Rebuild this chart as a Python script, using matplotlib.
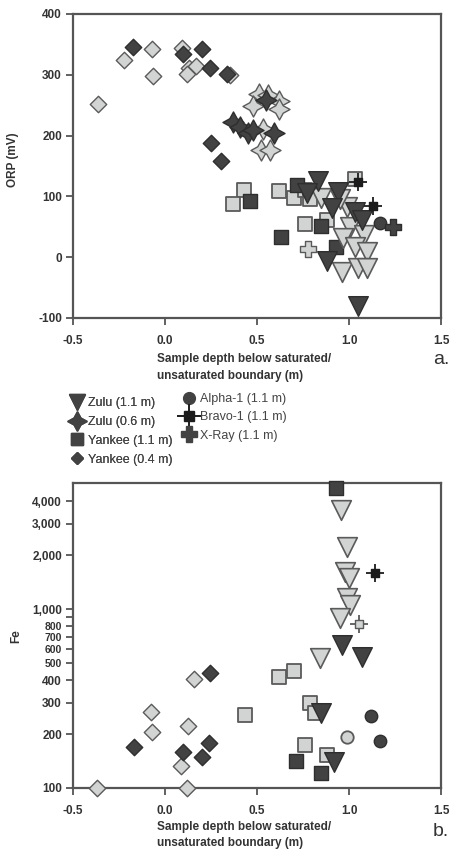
import matplotlib
matplotlib.use("Agg")
import matplotlib.pyplot as plt
from matplotlib.lines import Line2D
from matplotlib.legend_handler import HandlerTuple
from matplotlib.ticker import FixedLocator, NullLocator, NullFormatter

plt.rcParams['font.family'] = ['Liberation Sans', 'DejaVu Sans']

# ---------------- Panel a: ORP (mV) ----------------
orp_zulu11_dark_x = [0.83, 0.94, 0.91, 1.03, 1.07, 0.88, 1.05, 0.77]
orp_zulu11_dark_y = [125, 108, 81, 75, 62, -6, -80, 105]
orp_zulu11_light_x = [0.85, 0.99, 1.005, 1.08, 0.97, 1.03, 1.10, 0.96, 1.05, 1.10, 0.95]
orp_zulu11_light_y = [97, 83, 50, 37, 32, 17, 9, -25, -18, -18, 95]

orp_zulu06_dark_x = [0.37, 0.41, 0.45, 0.48, 0.59, 0.55]
orp_zulu06_dark_y = [222, 214, 205, 209, 205, 258]
orp_zulu06_light_x = [0.51, 0.56, 0.62, 0.48, 0.62, 0.53, 0.52, 0.57]
orp_zulu06_light_y = [268, 267, 257, 248, 243, 211, 176, 176]

orp_yankee11_dark_x = [0.46, 0.715, 0.63, 0.85, 0.93]
orp_yankee11_dark_y = [92, 119, 33, 51, 17]
orp_yankee11_light_x = [0.43, 0.37, 0.62, 0.70, 0.76, 0.79, 0.76, 0.88, 1.03]
orp_yankee11_light_y = [111, 87, 109, 97, 110, 96, 55, 61, 128]

orp_yankee04_dark_x = [-0.174, 0.098, 0.201, 0.245, 0.337, 0.25, 0.304]
orp_yankee04_dark_y = [346, 334, 342, 312, 301, 188, 158]
orp_yankee04_light_x = [-0.364, -0.223, -0.07, -0.065, 0.09, 0.13, 0.168, 0.12, 0.353]
orp_yankee04_light_y = [252, 324, 342, 298, 344, 312, 315, 301, 300]

orp_alpha_dark_x = [1.17]
orp_alpha_dark_y = [56]
orp_bravo_dark_x = [1.05, 1.13]
orp_bravo_dark_y = [124, 85]
orp_xray_light_x = [0.777]
orp_xray_light_y = [13]
orp_xray_dark_x = [1.24]
orp_xray_dark_y = [50]

# ---------------- Panel b: Fe ----------------
fe_zulu11_light_x = [0.955, 0.99, 0.978, 1.0, 0.99, 1.005, 0.95, 0.84]
fe_zulu11_light_y = [3570, 2220, 1610, 1500, 1150, 1050, 890, 530]
fe_zulu11_dark_x = [0.96, 1.07, 0.85, 0.92]
fe_zulu11_dark_y = [630, 540, 262, 140]

fe_yankee11_light_x = [0.62, 0.70, 0.79, 0.815, 0.435, 0.76, 0.88]
fe_yankee11_light_y = [417, 450, 300, 262, 256, 174, 153]
fe_yankee11_dark_x = [0.93, 0.71, 0.85]
fe_yankee11_dark_y = [4740, 142, 121]

fe_yankee04_light_x = [0.16, -0.076, -0.07, 0.126, 0.087, -0.37, 0.12]
fe_yankee04_light_y = [405, 266, 205, 222, 133, 100, 100]
fe_yankee04_dark_x = [0.245, -0.17, 0.10, 0.20, 0.24]
fe_yankee04_dark_y = [440, 170, 158, 149, 179]

fe_alpha_light_x = [0.99]
fe_alpha_light_y = [193]
fe_alpha_dark_x = [1.12, 1.17]
fe_alpha_dark_y = [253, 183]

fe_bravo_dark_x = [1.14]
fe_bravo_dark_y = [1590]
fe_bravo_light_x = [1.055]
fe_bravo_light_y = [830]

x_ticks = [-0.5, 0.0, 0.5, 1.0, 1.5]
orp_ticks = [400, 300, 200, 100, 0, -100]
fe_ticks = [100, 200, 300, 400, 500, 600, 700, 800, 900, 1000, 2000, 3000, 4000]
fe_ticklabels = ['100', '200', '300', '400', '500', '600', '700', '800', '',
                 '1,000', '2,000', '3,000', '4,000']

legend_labels = ['Zulu (1.1 m)', 'Zulu (0.6 m)', 'Yankee (1.1 m)', 'Yankee (0.4 m)',
                 'Alpha-1 (1.1 m)', 'Bravo-1 (1.1 m)', 'X-Ray (1.1 m)']
xlabel_lines = ['Sample depth below saturated/', 'unsaturated boundary (m)']

DARK = '#424242'
DARKEST = '#1c1c1c'
LIGHT = '#d2d4d4'
EDGE_L = '#5a5a5a'
EDGE_D = '#2e2e2e'
STAR = (4, 1, 0)

W, H = 453, 850
fig = plt.figure(figsize=(W / 100, H / 100), dpi=100)


def ax_rect(l, t, r, b):
    return [l / W, 1 - b / H, (r - l) / W, (b - t) / H]


axa = fig.add_axes(ax_rect(73, 14, 441, 318))
axb = fig.add_axes(ax_rect(73, 483, 441, 788))


def pts(ax, x, y, marker, size, face, edge, lw=1.0, z=3):
    ax.scatter(x, y, marker=marker, s=size, facecolor=face, edgecolor=edge,
               linewidths=lw, zorder=z, clip_on=False)


def cross(ax, x, y, face, edge, z=4):
    ax.scatter(x, y, marker='+', s=170, color=edge, linewidths=1.3, zorder=z, clip_on=False)
    ax.scatter(x, y, marker='s', s=40, facecolor=face, edgecolor=edge, linewidths=1.0,
               zorder=z + 0.1, clip_on=False)


# Panel a
pts(axa, orp_yankee04_light_x, orp_yankee04_light_y, 'D', 70, LIGHT, EDGE_L)
pts(axa, orp_yankee04_dark_x, orp_yankee04_dark_y, 'D', 70, DARK, EDGE_D)
pts(axa, orp_zulu06_light_x, orp_zulu06_light_y, STAR, 230, LIGHT, EDGE_L)
pts(axa, orp_zulu06_dark_x, orp_zulu06_dark_y, STAR, 230, DARK, EDGE_D)
pts(axa, orp_yankee11_light_x, orp_yankee11_light_y, 's', 95, LIGHT, EDGE_L, 1.3)
pts(axa, orp_yankee11_dark_x, orp_yankee11_dark_y, 's', 95, DARK, EDGE_D)
pts(axa, orp_zulu11_light_x, orp_zulu11_light_y, 'v', 200, LIGHT, EDGE_L, 1.2)
pts(axa, orp_zulu11_dark_x, orp_zulu11_dark_y, 'v', 200, DARK, EDGE_D)
pts(axa, orp_alpha_dark_x, orp_alpha_dark_y, 'o', 80, DARK, EDGE_D)
cross(axa, orp_bravo_dark_x, orp_bravo_dark_y, DARKEST, DARKEST)
pts(axa, orp_xray_light_x, orp_xray_light_y, 'P', 140, LIGHT, EDGE_L)
pts(axa, orp_xray_dark_x, orp_xray_dark_y, 'P', 140, DARK, EDGE_D)

# Panel b
pts(axb, fe_yankee04_light_x, fe_yankee04_light_y, 'D', 70, LIGHT, EDGE_L)
pts(axb, fe_yankee04_dark_x, fe_yankee04_dark_y, 'D', 70, DARK, EDGE_D)
pts(axb, fe_yankee11_light_x, fe_yankee11_light_y, 's', 95, LIGHT, EDGE_L, 1.3)
pts(axb, fe_yankee11_dark_x, fe_yankee11_dark_y, 's', 95, DARK, EDGE_D)
pts(axb, fe_zulu11_light_x, fe_zulu11_light_y, 'v', 200, LIGHT, EDGE_L, 1.2)
pts(axb, fe_zulu11_dark_x, fe_zulu11_dark_y, 'v', 200, DARK, EDGE_D)
pts(axb, fe_alpha_light_x, fe_alpha_light_y, 'o', 80, LIGHT, EDGE_L, 1.3)
pts(axb, fe_alpha_dark_x, fe_alpha_dark_y, 'o', 80, DARK, EDGE_D)
cross(axb, fe_bravo_dark_x, fe_bravo_dark_y, DARKEST, DARKEST)
cross(axb, fe_bravo_light_x, fe_bravo_light_y, LIGHT, EDGE_L)

for ax in (axa, axb):
    ax.set_xlim(-0.5, 1.5)
    ax.set_xticks(x_ticks)
    ax.set_xticklabels(['%.1f' % v for v in x_ticks])
    for s in ax.spines.values():
        s.set_color('#555555')
        s.set_linewidth(1.6)
    ax.tick_params(axis='both', which='both', direction='out', length=5, width=1.3,
                   color='#555555', labelsize=8.5, pad=3)
    ax.tick_params(axis='x', pad=7)
    for lab in ax.get_xticklabels() + ax.get_yticklabels():
        lab.set_fontweight('bold')
        lab.set_color('#333333')

axa.set_ylim(-100, 400)
axa.set_yticks(orp_ticks)
axa.set_yticklabels([str(v) for v in orp_ticks], fontweight='bold', color='#333333')

axb.set_yscale('log')
axb.set_ylim(100, 5060)
axb.yaxis.set_major_locator(FixedLocator(fe_ticks))
axb.yaxis.set_minor_locator(NullLocator())
axb.set_yticklabels(fe_ticklabels, fontweight='bold', color='#333333')
axb.yaxis.set_minor_formatter(NullFormatter())
for v, lab in zip(fe_ticks, axb.get_yticklabels()):
    if 500 <= v <= 800:
        lab.set_fontsize(7.5)

# axis labels
fig.text(13 / W, 1 - 160 / H, 'ORP (mV)', rotation=90, ha='center', va='center',
         fontsize=8.5, fontweight='bold', color='#333333')
fig.text(16 / W, 1 - 636 / H, 'Fe', rotation=90, ha='center', va='center',
         fontsize=8.5, fontweight='bold', color='#333333')
for y1, y2 in ((359, 376), (827, 843)):
    fig.text(157 / W, 1 - y1 / H, xlabel_lines[0], ha='left', va='center',
             fontsize=8.5, fontweight='bold', color='#333333')
    fig.text(157 / W, 1 - y2 / H, xlabel_lines[1], ha='left', va='center',
             fontsize=8.5, fontweight='bold', color='#333333')
fig.text(449 / W, 1 - 359 / H, 'a.', ha='right', va='center', fontsize=14, color='#333333')
fig.text(449 / W, 1 - 832 / H, 'b.', ha='right', va='center', fontsize=14, color='#333333')

# legends
h_zulu11 = Line2D([], [], ls='none', marker='v', ms=12, mfc=DARK, mec=DARK)
h_zulu06 = Line2D([], [], ls='none', marker=STAR, ms=14, mfc=DARK, mec=DARK)
h_y11 = Line2D([], [], ls='none', marker='s', ms=8, mfc=DARK, mec=DARK)
h_y04 = Line2D([], [], ls='none', marker='D', ms=6.5, mfc=DARK, mec=DARK)
h_alpha = Line2D([], [], ls='none', marker='o', ms=8.5, mfc=DARK, mec=DARK)
h_bravo = (Line2D([], [], ls='none', marker='+', ms=17, mew=1.4, color=DARKEST),
           Line2D([], [], ls='none', marker='s', ms=6.5, mfc=DARKEST, mec=DARKEST))
h_xray = Line2D([], [], ls='none', marker='P', ms=11, mfc=DARK, mec=DARK)

leg1 = fig.legend([h_zulu11, h_zulu06, h_y11, h_y04], legend_labels[:4],
                  loc='upper left', bbox_to_anchor=(71 / W, 1 - 397 / H),
                  frameon=False, fontsize=9, handlelength=1.0, handletextpad=0.4,
                  labelspacing=0.55, borderpad=0, borderaxespad=0,
                  labelcolor='#444444')
fig.legend([h_alpha, h_bravo, h_xray], legend_labels[4:],
           loc='upper left', bbox_to_anchor=(182 / W, 1 - 393 / H),
           frameon=False, fontsize=9, handlelength=1.1, handletextpad=0.3,
           labelspacing=0.5, borderpad=0, borderaxespad=0,
           labelcolor='#444444', handler_map={tuple: HandlerTuple(ndivide=1, pad=0)})
fig.add_artist(leg1)

fig.savefig('out.png', dpi=100)
